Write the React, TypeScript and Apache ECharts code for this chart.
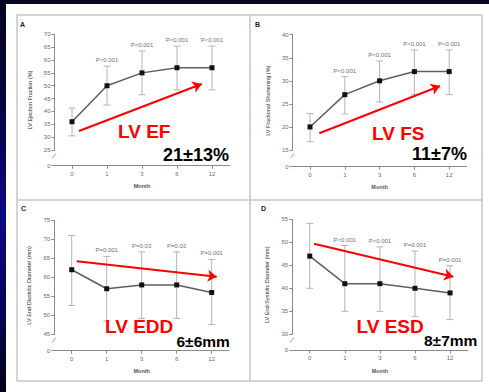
import React, { useEffect, useRef } from 'react';
import * as echarts from 'echarts';

// ---- data ----
const months = ['0', '1', '3', '6', '12'];

const efMean = [36, 50, 55, 57, 57];
const efLow = [30.5, 42.5, 46.5, 48.4, 48.4];
const efHigh = [41.3, 57.6, 63.5, 65.4, 65.4];
const efP = ['', 'P<0.001', 'P<0.001', 'P<0.001', 'P<0.001'];

const fsMean = [20, 27, 30, 32, 32];
const fsLow = [16.8, 22.8, 25.4, 27, 27];
const fsHigh = [22.9, 30.9, 34.3, 36.7, 36.7];
const fsP = ['', 'P<0.001', 'P<0.001', 'P<0.001', 'P<0.001'];

const eddMean = [62, 57, 58, 58, 56];
const eddLow = [52.6, 48.5, 49.2, 49.2, 47.6];
const eddHigh = [71, 65.5, 66.7, 66.7, 64.7];
const eddP = ['', 'P=0.001', 'P=0.03', 'P=0.02', 'P=0.001'];

const esdMean = [47, 41, 41, 40, 39];
const esdLow = [40, 35, 35, 33.9, 33.2];
const esdHigh = [54.1, 49.3, 49, 48.1, 44.9];
const esdP = ['', 'P<0.001', 'P<0.001', 'P=0.001', 'P=0.001'];

const axisNames = [
  'LV Ejection Fraction (%)',
  'LV Fractional Shortening (%)',
  'LV End-Diastolic Diameter (mm)',
  'LV End-Systolic Diameter (mm)',
];
const axisMax = [70, 40, 75, 55];
const axisBreakEnd = [25, 15, 45, 30];
const panelLetters = ['A', 'B', 'C', 'D'];
const bigLabels = ['LV EF', 'LV FS', 'LV EDD', 'LV ESD'];
const changeLabels = ['21±13%', '11±7%', '6±6mm', '8±7mm'];

// ---- layout (pixels) ----
const layout = [
  { grid: { left: 54.5, top: 34.3, width: 175, height: 131.4 }, gap: 6.1, arrow: [[79, 131], [201.7, 84]], big: [118, 131], change: [163, 155], changeSize: 18, letter: [20, 24] },
  { grid: { left: 292.6, top: 34.7, width: 174, height: 132 }, gap: 3.62, arrow: [[319.3, 133.3], [440, 86]], big: [372, 133], change: [412, 154], changeSize: 18, letter: [255, 24] },
  { grid: { left: 54.2, top: 220.3, width: 175, height: 130.4 }, gap: 4.3, arrow: [[76.7, 261.3], [216.7, 276.7]], big: [105, 326], change: [176.5, 341], changeSize: 15.5, letter: [21, 208] },
  { grid: { left: 292.2, top: 219.3, width: 175.4, height: 131 }, gap: 3.48, arrow: [[314, 243.7], [453.3, 276.7]], big: [356.5, 326], change: [424, 340], changeSize: 15.5, letter: [261, 208] },
];

const sets = [
  { mean: efMean, low: efLow, high: efHigh, p: efP },
  { mean: fsMean, low: fsLow, high: fsHigh, p: fsP },
  { mean: eddMean, low: eddLow, high: eddHigh, p: eddP },
  { mean: esdMean, low: esdLow, high: esdHigh, p: esdP },
];

const FONT = 'Liberation Sans, Arial, sans-serif';

export default function App() {
  const ref = useRef<HTMLDivElement>(null);
  useEffect(() => {
    if (!ref.current) return;
    const chart = echarts.init(ref.current, null, { renderer: 'svg' });

    const grids: any[] = [];
    const xAxes: any[] = [];
    const yAxes: any[] = [];
    const series: any[] = [];
    const graphics: any[] = [];

    graphics.push({ type: 'rect', shape: { x: 6, y: 4, width: 483, height: 388 }, style: { fill: '#ffffff' }, z: -10 });
    const lineStyle = { stroke: '#c6c6c6', lineWidth: 1.5 };
    [17, 250, 482].forEach((x) => graphics.push({ type: 'line', shape: { x1: x, y1: 15, x2: x, y2: 381 }, style: lineStyle, z: -5 }));
    [15, 200, 381].forEach((y) => graphics.push({ type: 'line', shape: { x1: 17, y1: y, x2: 482, y2: y }, style: lineStyle, z: -5 }));

    sets.forEach((s, i) => {
      const L = layout[i];
      grids.push({ ...L.grid, outerBoundsMode: 'none' });
      xAxes.push({
        type: 'category', gridIndex: i, data: months, boundaryGap: true,
        name: 'Month', nameLocation: 'middle', nameGap: 17.5,
        nameTextStyle: { fontSize: 5.5, color: '#555', fontWeight: 'bold', fontFamily: FONT },
        axisLine: { show: true, lineStyle: { color: '#8a8a8a', width: 1 } },
        axisTick: { show: true, alignWithLabel: true, length: 3, lineStyle: { color: '#8a8a8a' } },
        axisLabel: { fontSize: 6, color: '#6a6a6a', margin: 5, fontFamily: FONT },
        splitLine: { show: false },
      });
      yAxes.push({
        type: 'value', gridIndex: i, min: 0, max: axisMax[i], interval: 5,
        breaks: [{ start: 0, end: axisBreakEnd[i], gap: L.gap }],
        breakArea: { show: false },
        name: axisNames[i], nameLocation: 'middle', nameGap: 22, nameRotate: 90,
        nameTextStyle: { fontSize: 5.5, color: '#2a2a2a', fontFamily: FONT },
        axisLine: { show: true, lineStyle: { color: '#8a8a8a', width: 1 } },
        axisTick: { show: true, length: 3, lineStyle: { color: '#8a8a8a' } },
        axisLabel: { fontSize: 6, color: '#6a6a6a', margin: 4, fontFamily: FONT },
        splitLine: { show: false },
      });
      series.push({
        type: 'custom', xAxisIndex: i, yAxisIndex: i, z: 1,
        data: months.map((_, k) => [k, s.low[k], s.high[k]]),
        renderItem: (params: any, api: any) => {
          const x = api.value(0);
          const pLo = api.coord([x, api.value(1)]);
          const pHi = api.coord([x, api.value(2)]);
          const w = 3.5;
          const st = { stroke: '#b4b4b4', lineWidth: 1 };
          const label = s.p[params.dataIndex];
          const children: any[] = [
            { type: 'line', shape: { x1: pHi[0], y1: pHi[1], x2: pLo[0], y2: pLo[1] }, style: st },
            { type: 'line', shape: { x1: pHi[0] - w, y1: pHi[1], x2: pHi[0] + w, y2: pHi[1] }, style: st },
            { type: 'line', shape: { x1: pLo[0] - w, y1: pLo[1], x2: pLo[0] + w, y2: pLo[1] }, style: st },
          ];
          if (label) {
            children.push({ type: 'text', style: { text: label, x: pHi[0], y: pHi[1] - 6, align: 'center', verticalAlign: 'middle', fontSize: 6, fill: '#707070', fontFamily: FONT } });
          }
          return { type: 'group', children };
        },
      });
      series.push({
        type: 'line', xAxisIndex: i, yAxisIndex: i, z: 3,
        data: s.mean,
        symbol: 'rect', symbolSize: 5,
        itemStyle: { color: '#111' },
        lineStyle: { color: '#5e5e5e', width: 1.5 },
        markLine: {
          silent: true, symbol: ['none', 'arrow'], symbolSize: 9,
          lineStyle: { color: '#ff0000', width: 2, type: 'solid' },
          label: { show: false },
          data: [[{ x: L.arrow[0][0], y: L.arrow[0][1] }, { x: L.arrow[1][0], y: L.arrow[1][1] }]],
        },
      });
      graphics.push({ type: 'text', x: L.letter[0], y: L.letter[1], style: { text: panelLetters[i], fontSize: 7, fontWeight: 'bold', fill: '#222', fontFamily: FONT, verticalAlign: 'middle' }, z: 10 });
      graphics.push({ type: 'text', x: L.big[0], y: L.big[1], style: { text: bigLabels[i], fontSize: 19, fontWeight: 'bold', fill: '#ff0000', fontFamily: FONT, verticalAlign: 'middle' }, z: 10 });
      graphics.push({ type: 'text', x: L.change[0], y: L.change[1], style: { text: changeLabels[i], fontSize: L.changeSize, fontWeight: 'bold', fill: '#000', fontFamily: FONT, verticalAlign: 'middle' }, z: 10 });
    });

    chart.setOption({
      animation: false,
      backgroundColor: 'transparent',
      grid: grids,
      xAxis: xAxes,
      yAxis: yAxes,
      series,
      graphic: graphics,
    });

    // break marks on each y axis, placed through the axis scale
    const marks: any[] = [];
    sets.forEach((_, i) => {
      const yTop = chart.convertToPixel({ yAxisIndex: i } as any, axisBreakEnd[i]) as unknown as number;
      const yBot = chart.convertToPixel({ yAxisIndex: i } as any, 0) as unknown as number;
      const x = layout[i].grid.left;
      const mid = yTop + (yBot - yTop) * 0.4;
      marks.push({ type: 'rect', shape: { x: x - 1, y: mid - 2, width: 2, height: 3 }, style: { fill: '#fff' }, z: 20 });
      marks.push({ type: 'line', shape: { x1: x - 2, y1: mid + 1.5, x2: x + 1.5, y2: mid - 3 }, style: { stroke: '#8a8a8a', lineWidth: 0.8 }, z: 21 });
    });
    chart.setOption({ graphic: [...graphics, ...marks] });

    return () => chart.dispose();
  }, []);

  return (
    <div
      ref={ref}
      style={{
        position: 'fixed', left: 0, top: 0, width: 489, height: 392,
        background: 'linear-gradient(180deg, #05051f 0%, #04043f 25%, #0a0a80 55%, #05055a 78%, #02021a 100%)',
      }}
    />
  );
}
